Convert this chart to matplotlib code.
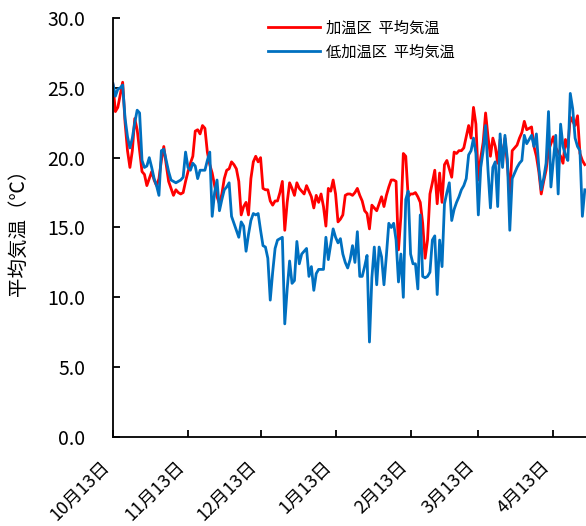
import pandas as pd
import matplotlib
matplotlib.use("Agg")
import matplotlib.pyplot as plt
import matplotlib.dates as mdates

plt.rcParams['font.family'] = ['Noto Sans CJK JP', 'DejaVu Sans']

# daily mean air temperature, starting 13 Oct
start_date = "2022-10-13"

heated = [
    25.2, 23.3, 23.6, 24.5, 25.4, 22.5, 20.5, 19.3, 20.5, 22.8,
    22.0, 20.5, 19.0, 18.8, 18.0, 18.5, 19.0, 18.4, 18.0, 18.5,
    19.8, 20.8, 19.5, 18.3, 17.8, 17.3, 17.7, 17.5, 17.4, 17.5,
    18.3, 19.0, 19.6, 20.1, 21.9, 22.0, 21.7, 22.3, 22.1, 20.4,
    19.5, 18.9, 18.0, 17.2, 16.7, 17.4, 18.5, 19.1, 19.2, 19.7,
    19.5, 19.2, 18.3, 15.9, 16.5, 16.8, 15.9, 18.5, 19.7, 20.1,
    19.7, 20.0, 17.8, 17.7, 17.7, 16.9, 16.6, 16.9, 16.9, 17.5,
    18.3, 14.8, 16.8, 18.2, 17.8, 17.3, 18.2, 17.8, 17.6, 17.4,
    18.0, 17.6, 17.2, 16.4, 17.3, 16.8, 17.4, 16.5, 15.1, 17.8,
    17.6, 18.4, 17.4, 15.4, 15.6, 15.9, 17.3, 17.4, 17.4, 17.3,
    17.5, 17.8, 17.3, 16.9, 16.2, 16.0, 14.9, 16.6, 16.4, 16.2,
    16.7, 17.2, 16.5, 17.3, 17.9, 18.4, 18.4, 18.3, 13.4, 15.8,
    20.3, 20.1, 17.2, 17.4, 17.4, 17.5, 17.2, 16.8, 15.3, 12.8,
    14.1, 17.4, 18.2, 19.1, 16.7, 18.9, 16.8, 19.5, 19.8, 19.2,
    18.6, 20.4, 20.3, 20.5, 20.5, 20.7, 21.5, 22.3, 21.4, 23.6,
    22.4, 18.4, 20.0, 21.1, 23.2, 21.5, 20.1, 21.4, 20.8, 19.6,
    21.3, 19.9, 21.4, 19.5, 17.4, 20.5, 20.7, 20.9, 21.4, 21.8,
    22.6, 22.0, 22.1, 22.2, 20.8, 20.1, 19.0, 17.4, 18.3, 19.1,
    20.5, 21.0, 21.5, 20.7, 20.4, 20.1, 19.6, 21.3, 20.7, 22.9,
    22.6, 22.3, 23.0, 20.3, 19.8, 19.5,
]

low_heat = [
    25.3, 24.4, 24.9, 25.0, 25.2, 22.8, 21.5, 20.7, 21.4, 22.5,
    23.4, 23.2, 19.8, 19.3, 19.4, 20.0, 19.3, 18.5, 18.0, 17.3,
    20.5, 20.6, 19.8, 19.0, 18.4, 18.3, 18.2, 18.3, 18.4, 18.6,
    20.4, 19.3, 19.1, 19.6, 19.4, 18.5, 19.1, 19.1, 19.1, 19.8,
    20.4, 15.8, 17.5, 18.4, 16.2, 17.0, 17.7, 17.9, 18.2, 15.8,
    15.3, 14.8, 14.3, 15.4, 15.1, 13.3, 14.5, 15.5, 16.0, 15.9,
    16.0, 14.8, 13.7, 13.6, 12.8, 9.8, 11.8, 13.5, 14.1, 14.2,
    14.3, 8.1, 10.6, 12.6, 11.0, 11.2, 14.0, 12.4, 13.1, 13.3,
    13.5, 11.5, 12.2, 10.5, 11.7, 12.0, 12.0, 12.0, 14.3, 12.7,
    13.8, 14.9, 14.3, 13.9, 14.2, 13.1, 12.5, 12.1, 12.7, 13.7,
    12.5, 14.7, 11.5, 11.5, 12.2, 13.0, 6.8, 11.4, 13.6, 10.9,
    13.6, 12.9, 10.9, 13.0, 15.3, 15.0, 15.3, 14.1, 11.1, 13.1,
    10.0, 17.0, 17.6, 13.1, 12.4, 12.4, 10.6, 15.9, 11.5, 11.4,
    11.5, 11.8, 14.1, 14.4, 10.2, 14.1, 12.2, 16.7, 17.5, 18.2,
    15.5, 16.3, 16.8, 17.2, 17.7, 18.0, 18.5, 20.2, 20.5, 21.4,
    20.3, 15.9, 19.3, 20.5, 22.3, 19.1, 16.4, 19.3, 19.7, 16.5,
    21.7, 19.3, 21.6, 19.9, 14.8, 18.5, 18.9, 19.3, 19.6, 19.8,
    21.6, 21.0, 21.3, 21.6, 20.8, 21.7, 19.3, 17.7, 18.5, 19.6,
    23.3, 17.9, 19.8, 21.6, 17.4, 22.4, 20.8, 20.2, 19.8, 24.6,
    23.5, 21.4, 20.8, 20.5, 15.8, 17.7,
]

labels = ["加温区  平均気温", "低加温区  平均気温"]
y_ticks = [0, 5, 10, 15, 20, 25, 30]

dates = pd.date_range(start_date, periods=len(heated), freq="D")

fig = plt.figure(figsize=(5.86, 5.26), dpi=100)
ax = fig.add_axes([0.1928, 0.1692, 0.8072, 0.7966])

ax.plot(dates, heated, color="#ff0000", linewidth=2.0, label=labels[0])
ax.plot(dates, low_heat, color="#0070c0", linewidth=2.0, label=labels[1])

ax.set_xlim(dates[0], dates[0] + pd.Timedelta(days=195.5))
ax.set_ylim(0, 30)
ax.set_yticks(y_ticks)
ax.yaxis.set_major_formatter(plt.FuncFormatter(lambda v, p: f"{v:.1f}"))

# ticks on the 13th of each month
ax.xaxis.set_major_locator(mdates.DayLocator(bymonthday=13))
ax.xaxis.set_major_formatter(
    plt.FuncFormatter(lambda v, p: f"{mdates.num2date(v).month}月{mdates.num2date(v).day}日"))

for side in ["top", "right"]:
    ax.spines[side].set_visible(False)
for side in ["left", "bottom"]:
    ax.spines[side].set_linewidth(1.3)

ax.tick_params(axis="y", direction="in", length=5, width=1.3, pad=20, labelsize=14)
ax.tick_params(axis="x", direction="in", length=5, width=1.3, pad=15, labelsize=13)
for lbl in ax.get_xticklabels():
    lbl.set_rotation(45)
    lbl.set_ha("right")

ax.set_ylabel("平均気温（℃）", fontsize=14, labelpad=13)

ax.legend(loc="upper left", bbox_to_anchor=(0.445, 0.977), bbox_transform=fig.transFigure,
          frameon=False, fontsize=11, handlelength=3.4, handletextpad=0.35,
          labelspacing=0.45, borderpad=0)

fig.savefig("out.png", dpi=100)
plt.close(fig)
